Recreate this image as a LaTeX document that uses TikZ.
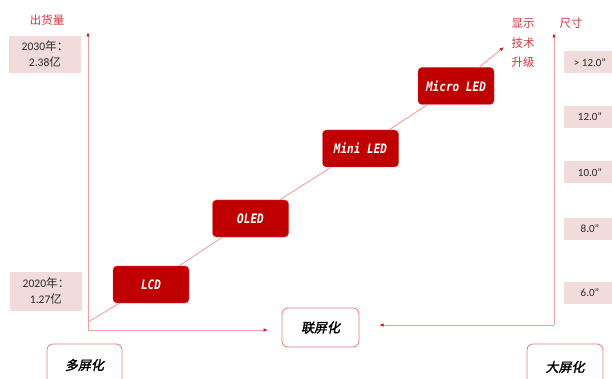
\documentclass[tikz,border=0pt]{standalone}
\usepackage{fontspec}
\setmainfont{Carlito}
\newfontfamily\cjk{Noto Sans CJK SC}
\newfontfamily\cjkbi[FakeSlant=0.2,FakeBold=1.5]{Noto Sans CJK SC}
\newfontfamily\boxfont[FakeStretch=0.85]{DejaVu Sans Mono}
\usetikzlibrary{arrows.meta}
\definecolor{boxred}{HTML}{C00000}
\definecolor{labpink}{HTML}{F2DCDB}
\definecolor{axiscol}{HTML}{F0A0A2}
\definecolor{tipred}{HTML}{D01818}
\definecolor{txtred}{HTML}{D8343C}
\definecolor{bdr}{HTML}{E87878}
\definecolor{txtgray}{HTML}{2A2A2A}
\begin{document}
\begin{tikzpicture}[x=1pt,y=-1pt,
  techbox/.style={draw=boxred!75!white, fill=boxred, rounded corners=4pt,
    minimum width=76pt, minimum height=37pt, inner sep=0pt, text=white,
    font=\boxfont\bfseries\itshape\fontsize{13}{13}\selectfont},
  pinklab/.style={fill=labpink, inner sep=0pt, text=txtgray, align=center,
    font=\fontsize{11.6}{16}\selectfont},
  sizelab/.style={fill=labpink, inner sep=0pt, text=txtgray,
    minimum width=52pt, minimum height=22pt, font=\fontsize{11}{11}\selectfont},
  trendbox/.style={draw=bdr, line width=0.8pt, fill=white, rounded corners=6pt,
    inner sep=0pt, text=black, font=\cjkbi\fontsize{13}{13}\selectfont},
  redtxt/.style={text=txtred, align=center, inner sep=0pt,
    font=\cjk\fontsize{11.5}{19.5}\selectfont},
  axisline/.style={draw=axiscol, line width=0.9pt},
  axisarrow/.style={axisline, -{Latex[length=4.5pt,width=3.5pt,color=tipred]}}
]
\clip (0,0) rectangle (612,379);
\fill[white] (0,0) rectangle (612,379);

% coordinates
\coordinate (lcorner) at (88,330);
\coordinate (ltop) at (88,32);
\coordinate (hleft) at (268,330);
\coordinate (rcorner) at (554,325);
\coordinate (rtop) at (554,33);
\coordinate (hright) at (379,325);
\coordinate (dstart) at (88,322);
\coordinate (dend) at (504,47);

% nodes
\node[techbox] (lcd) at (151,284.5) {LCD};
\node[techbox] (oled) at (250.5,218.5) {OLED};
\node[techbox] (mini) at (360.5,148.5) {Mini LED};
\node[techbox] (micro) at (456,86) {Micro LED};

\node[trendbox, minimum width=77pt, minimum height=39pt] (lian) at (320.5,327.5) {联屏化};
\node[trendbox, minimum width=75pt, minimum height=42pt] (duo) at (84.5,365) {多屏化};
\node[trendbox, minimum width=76pt, minimum height=46pt] (da) at (565,367) {大屏化};

\node[pinklab, minimum width=72pt, minimum height=37pt] (l2030) at (45,54.5) {2030{\cjk 年：}\\2.38{\cjk 亿}};
\node[pinklab, minimum width=72pt, minimum height=39pt] (l2020) at (46,291.5) {2020{\cjk 年：}\\1.27{\cjk 亿}};

\node[sizelab] (s1) at (590,62.5) {> 12.0”};
\node[sizelab] (s2) at (590,117) {12.0”};
\node[sizelab] (s3) at (590,172.5) {10.0”};
\node[sizelab] (s4) at (590,229) {8.0”};
\node[sizelab] (s5) at (590,293) {6.0”};

\node[redtxt] (ship) at (47,20) {出货量};
\node[redtxt] (tech) at (523,43) {显示\\技术\\升级};
\node[redtxt] (chicun) at (571,23) {尺寸};

% axes
\draw[axisarrow] (lcorner) -- (ltop);
\draw[axisarrow] (lcorner) -- (hleft);
\draw[axisarrow] (rcorner) -- (rtop);
\draw[axisarrow] (rcorner) -- (hright);

% diagonal
\draw[axisline] (dstart) -- (lcd);
\draw[axisline] (lcd) -- (oled);
\draw[axisline] (oled) -- (mini);
\draw[axisline] (mini) -- (micro);
\draw[axisarrow] (micro) -- (dend);
\end{tikzpicture}
\end{document}
